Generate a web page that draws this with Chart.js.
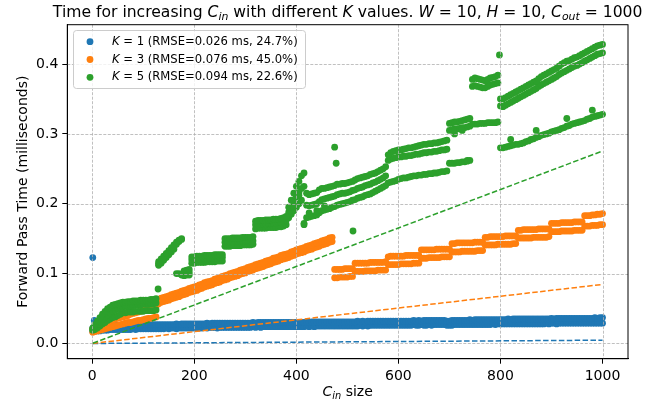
<!DOCTYPE html>
<html>
<head>
<meta charset="utf-8">
<script src="https://cdn.jsdelivr.net/npm/chart.js@4.4.1/dist/chart.umd.min.js"></script>
<style>
html, body { margin: 0; padding: 0; background: #fff; }
</style>
</head>
<body>
<canvas id="chart" width="670" height="404"></canvas>
<script>
// C_in values sampled along the x axis
var cinSizes = [1,
  5,10,15,20,25,30,35,40,45,50, 55,60,65,70,75,80,85,90,95,100,
  105,110,115,120,125,130,135,140,145,150, 155,160,165,170,175,180,185,190,195,200,
  205,210,215,220,225,230,235,240,245,250, 255,260,265,270,275,280,285,290,295,300,
  305,310,315,320,325,330,335,340,345,350, 355,360,365,370,375,380,385,390,395,400,
  405,410,415,420,425,430,435,440,445,450, 455,460,465,470,475,480,485,490,495,500,
  505,510,515,520,525,530,535,540,545,550, 555,560,565,570,575,580,585,590,595,600,
  605,610,615,620,625,630,635,640,645,650, 655,660,665,670,675,680,685,690,695,700,
  705,710,715,720,725,730,735,740,745,750, 755,760,765,770,775,780,785,790,795,800,
  805,810,815,820,825,830,835,840,845,850, 855,860,865,870,875,880,885,890,895,900,
  905,910,915,920,925,930,935,940,945,950, 955,960,965,970,975,980,985,990,995,1000];

var xTicks = [0, 200, 400, 600, 800, 1000];
var yTicks = [0.0, 0.1, 0.2, 0.3, 0.4];

// K=1 : lower / upper edge of the band (ms)
var k1Low = [.017,
  .018,.018,.018,.019,.019,.019,.020,.020,.020,.020, .020,.020,.020,.020,.020,.021,.020,.021,.021,.021,
  .021,.021,.021,.021,.021,.021,.021,.021,.022,.021, .022,.022,.021,.022,.022,.022,.022,.022,.022,.022,
  .022,.022,.022,.023,.022,.023,.023,.023,.022,.023, .023,.023,.023,.023,.023,.023,.023,.023,.023,.023,
  .023,.023,.024,.023,.024,.023,.024,.024,.024,.024, .024,.024,.024,.024,.024,.024,.024,.024,.024,.024,
  .024,.024,.024,.025,.024,.025,.024,.025,.025,.025, .025,.025,.025,.025,.025,.025,.025,.025,.025,.025,
  .025,.025,.025,.025,.026,.025,.026,.025,.026,.026, .026,.026,.026,.026,.026,.026,.026,.026,.026,.026,
  .026,.026,.026,.026,.026,.027,.026,.026,.027,.026, .026,.027,.026,.027,.027,.027,.027,.027,.026,.026,
  .026,.027,.027,.027,.027,.027,.027,.027,.027,.027, .027,.027,.027,.027,.027,.027,.028,.027,.028,.028,
  .028,.028,.028,.028,.028,.028,.028,.028,.028,.028, .028,.028,.028,.028,.028,.028,.028,.029,.028,.029,
  .029,.028,.029,.029,.029,.029,.029,.029,.029,.029, .029,.029,.029,.029,.029,.029,.029,.029,.029,.029];
var k1High = [.022,
  .023,.023,.024,.024,.025,.025,.025,.025,.026,.026, .026,.026,.026,.026,.026,.026,.026,.027,.026,.027,
  .027,.027,.027,.027,.027,.027,.027,.027,.027,.027, .027,.027,.028,.027,.028,.028,.028,.028,.028,.028,
  .028,.028,.028,.028,.029,.028,.029,.029,.029,.029, .029,.029,.029,.029,.029,.029,.029,.029,.029,.029,
  .029,.029,.030,.029,.030,.030,.030,.030,.030,.030, .030,.030,.030,.030,.030,.030,.030,.030,.030,.030,
  .030,.030,.030,.031,.030,.031,.031,.031,.031,.031, .031,.031,.031,.031,.031,.031,.031,.031,.031,.031,
  .031,.031,.031,.032,.031,.032,.031,.032,.032,.032, .032,.032,.032,.032,.032,.032,.032,.032,.032,.032,
  .032,.032,.032,.032,.032,.033,.032,.033,.032,.033, .033,.033,.033,.033,.033,.033,.033,.033,.032,.032,
  .033,.033,.033,.033,.033,.033,.033,.034,.033,.034, .034,.034,.034,.034,.034,.034,.034,.034,.034,.034,
  .034,.034,.035,.034,.035,.035,.035,.035,.035,.035, .035,.035,.035,.035,.035,.035,.035,.035,.035,.036,
  .035,.036,.036,.036,.036,.036,.036,.036,.036,.036, .036,.036,.036,.036,.036,.036,.037,.036,.037,.037];
var k1Extra = [[1, 0.123], [4, 0.033]];

// K=3 : two interleaved bands
var k3Low = [.016,
  .017,.018,.019,.020,.021,.022,.023,.024,.025,.026, .027,.028,.029,.030,.030,.031,.032,.033,.033,.034,
  .035,.036,.036,.037,.038,.057,.059,.060,.061,.062, .064,.065,.066,.067,.069,.070,.071,.073,.074,.075,
  .076,.078,.079,.081,.082,.083,.084,.086,.087,.088, .090,.091,.092,.094,.095,.096,.097,.099,.100,.101,
  .103,.104,.105,.107,.108,.109,.110,.112,.113,.114, .116,.117,.118,.120,.121,.122,.123,.125,.126,.128,
  .129,.130,.131,.133,.134,.135,.137,.138,.139,.141, .142,.143,.145,.146,.094,.094,.095,.095,.095,.095,
  .096,.096,.103,.103,.103,.103,.104,.104,.104,.104, .104,.105,.105,.105,.105,.113,.113,.113,.113,.113,
  .114,.114,.114,.114,.114,.115,.115,.115,.122,.122, .122,.123,.123,.123,.123,.123,.124,.124,.124,.124,
  .131,.131,.131,.131,.132,.132,.132,.132,.132,.132, .133,.133,.133,.141,.141,.141,.141,.141,.142,.142,
  .142,.142,.142,.142,.143,.143,.151,.151,.151,.151, .151,.151,.152,.152,.152,.152,.152,.152,.153,.160,
  .160,.160,.160,.161,.161,.161,.161,.161,.162,.162, .162,.162,.168,.168,.168,.169,.169,.169,.170,.170];
var k3High = [.021,
  .023,.024,.026,.027,.029,.030,.032,.033,.035,.036, .037,.038,.039,.040,.042,.043,.044,.045,.046,.047,
  .048,.050,.051,.052,.053,.063,.065,.066,.067,.068, .070,.071,.072,.073,.075,.076,.077,.079,.080,.081,
  .082,.084,.085,.087,.088,.089,.090,.092,.093,.094, .096,.097,.098,.100,.101,.102,.103,.105,.106,.107,
  .109,.110,.111,.113,.114,.115,.116,.118,.119,.120, .122,.123,.124,.126,.127,.128,.129,.131,.132,.134,
  .135,.136,.137,.139,.140,.141,.143,.144,.145,.147, .148,.149,.151,.152,.106,.106,.106,.106,.107,.107,
  .107,.107,.115,.115,.115,.115,.115,.115,.116,.116, .116,.116,.116,.116,.117,.124,.125,.125,.125,.125,
  .125,.125,.126,.126,.126,.126,.126,.126,.134,.134, .134,.134,.134,.134,.135,.135,.135,.135,.135,.135,
  .143,.143,.144,.144,.144,.144,.144,.144,.144,.145, .145,.145,.145,.152,.152,.153,.153,.153,.153,.153,
  .153,.154,.154,.154,.154,.154,.162,.162,.163,.163, .163,.163,.163,.163,.164,.164,.164,.164,.164,.172,
  .172,.172,.172,.173,.173,.173,.173,.173,.174,.174, .174,.174,.183,.183,.183,.184,.184,.185,.185,.186];
var k3Extra = [];

// K=5 : upper cluster, its lower edge / middle of the cloud, lower cluster
var k5High = [.022,
  .027,.032,.037,.042,.046,.050,.052,.055,.056,.057, .058,.059,.059,.060,.060,.061,.061,.061,.062,.062,
  .062,.062,.063,.063,.064,.117,.121,.125,.129,.133, .137,.141,.145,.148,.150,.104,.105,.106,.124,.124,
  .125,.125,.125,.126,.126,.126,.126,.127,.127,.127, .127,.150,.150,.150,.151,.151,.151,.151,.152,.152,
  .152,.152,.153,.175,.176,.176,.176,.177,.177,.177, .178,.178,.178,.179,.180,.182,.195,.205,.215,.225,
  .232,.240,.244,.215,.213,.214,.215,.216,.220,.222, .222,.223,.224,.225,.226,.228,.228,.229,.229,.230,
  .231,.232,.234,.236,.237,.238,.239,.240,.242,.243, .244,.246,.248,.250,.253,.270,.273,.275,.276,.277,
  .277,.278,.279,.280,.280,.281,.282,.283,.284,.285, .285,.286,.286,.287,.287,.288,.289,.290,.291,.315,
  .316,.317,.317,.318,.319,.320,.321,.322,.378,.380, .379,.378,.377,.376,.378,.380,.381,.382,.384,.350,
  .350,.352,.354,.356,.358,.360,.362,.364,.366,.368, .370,.372,.374,.376,.379,.382,.384,.386,.388,.390,
  .392,.394,.397,.400,.402,.404,.405,.407,.409,.410, .412,.414,.416,.418,.420,.422,.424,.426,.427,.428];
var k5Mid = [.020,
  .024,.027,.031,.035,.038,.041,.044,.046,.048,.050, .051,.052,.053,.053,.054,.054,.055,.055,.055,.056,
  .056,.056,.057,.057,.058,.114,.118,.122,.126,.130, .134,.138,.142,.146,.149,.101,.101,.102,.120,.120,
  .120,.121,.121,.121,.121,.122,.122,.122,.122,.123, .123,.145,.145,.145,.145,.146,.146,.146,.146,.147,
  .147,.147,.147,.170,.170,.171,.171,.171,.172,.172, .172,.172,.173,.173,.174,.176,.188,.195,.203,.210,
  .216,.222,.225,.198,.197,.198,.199,.200,.203,.206, .207,.208,.209,.210,.211,.213,.214,.215,.215,.216,
  .217,.219,.220,.222,.223,.224,.226,.227,.228,.230, .231,.233,.235,.237,.240,.262,.264,.265,.266,.267,
  .267,.268,.268,.269,.269,.270,.271,.271,.272,.273, .273,.274,.274,.275,.275,.276,.277,.277,.278,.305,
  .306,.307,.307,.308,.309,.309,.310,.311,.368,.369, .368,.367,.366,.366,.368,.370,.371,.372,.373,.340,
  .339,.341,.343,.345,.347,.349,.351,.353,.355,.357, .359,.361,.363,.365,.368,.370,.372,.374,.376,.378,
  .380,.382,.385,.387,.389,.391,.393,.395,.397,.398, .400,.402,.404,.406,.408,.410,.412,.414,.415,.416];
var k5Low = [.019,
  .020,.022,.025,.028,.030,.033,.035,.037,.038,.040, .042,.044,.044,.045,.045,.045,.046,.046,.046,.046,
  .047,.047,.047,.047,.048,.112,.115,.119,.123,.127, .131,.135,.100,.100,.098,.097,.098,.098,.115,.115,
  .116,.116,.116,.116,.117,.117,.117,.117,.118,.118, .118,.139,.139,.139,.140,.140,.140,.140,.141,.141,
  .141,.141,.142,.164,.165,.165,.165,.165,.166,.166, .166,.166,.167,.167,.168,.170,.180,.185,.190,.195,
  .200,.205,.172,.180,.181,.182,.183,.184,.187,.190, .191,.192,.193,.195,.196,.198,.199,.200,.201,.202,
  .203,.205,.206,.208,.209,.210,.212,.213,.214,.216, .218,.220,.222,.224,.226,.230,.231,.232,.233,.235,
  .236,.237,.237,.238,.239,.240,.240,.241,.241,.242, .242,.243,.243,.244,.244,.245,.246,.246,.247,.258,
  .258,.258,.259,.259,.260,.260,.261,.262,.314,.314, .314,.315,.315,.315,.316,.316,.316,.316,.317,.280,
  .280,.281,.282,.283,.284,.285,.285,.286,.287,.289, .290,.292,.293,.295,.296,.298,.299,.300,.301,.303,
  .304,.305,.306,.308,.309,.311,.312,.314,.315,.316, .317,.318,.319,.321,.322,.324,.325,.326,.327,.328];
var k5Extra = [[129, 0.078], [475, 0.281], [478, 0.258], [511, 0.161], [798, 0.413],
  [395, 0.195], [405, 0.212], [415, 0.170], [425, 0.187], [440, 0.190], [455, 0.197],
  [710, 0.300], [725, 0.305], [735, 0.262], [820, 0.292], [870, 0.305], [930, 0.322], [980, 0.334]];

// dashed fitted lines
var fitX = [1, 1000];
var fitK1 = [0.0, 0.0047];
var fitK3 = [0.0001, 0.0845];
var fitK5 = [0.0003, 0.2755];

var kValues = ['1', '3', '5'];
var rmseMs = ['0.026', '0.076', '0.094'];
var rmsePct = ['24.7', '45.0', '22.6'];
var colors = ['#1f77b4', '#ff7f0e', '#2ca02c'];

function scatterPoints(rows, extra) {
  var pts = [];
  rows.forEach(function (ys) {
    cinSizes.forEach(function (c, i) { pts.push({ x: c, y: ys[i] }); });
  });
  extra.forEach(function (p) { pts.push({ x: p[0], y: p[1] }); });
  return pts;
}
function linePoints(ys) {
  return fitX.map(function (x, i) { return { x: x, y: ys[i] }; });
}

var FONT = '"DejaVu Sans", sans-serif';

function drawRich(ctx, parts, x, y, size, align) {
  function f(p) { return (p.i ? 'italic ' : '') + (p.sub ? size * 0.7 : size) + 'px ' + FONT; }
  var w = 0;
  parts.forEach(function (p) { ctx.font = f(p); w += ctx.measureText(p.t).width; });
  var cx = align === 'center' ? x - w / 2 : x;
  ctx.textAlign = 'left';
  parts.forEach(function (p) {
    ctx.font = f(p);
    ctx.fillText(p.t, cx, y + (p.sub ? size * 0.22 : 0));
    cx += ctx.measureText(p.t).width;
  });
}

var decor = {
  id: 'decor',
  afterDatasetDraw: function (chart, args) {
    // matplotlib grid sits above the scatter, below the lines
    if (args.index !== 2) return;
    var ctx = chart.ctx, a = chart.chartArea;
    var xs = chart.scales.x, ys = chart.scales.y;
    ctx.save();
    ctx.strokeStyle = '#b0b0b0';
    ctx.lineWidth = 0.8;
    ctx.setLineDash([3, 1.5]);
    xTicks.forEach(function (v) {
      var px = Math.round(xs.getPixelForValue(v)) + 0.5;
      ctx.beginPath(); ctx.moveTo(px, a.top); ctx.lineTo(px, a.bottom); ctx.stroke();
    });
    yTicks.forEach(function (v) {
      var py = Math.round(ys.getPixelForValue(v)) + 0.5;
      ctx.beginPath(); ctx.moveTo(a.left, py); ctx.lineTo(a.right, py); ctx.stroke();
    });
    ctx.restore();
  },
  afterDraw: function (chart) {
    var ctx = chart.ctx, a = chart.chartArea;
    ctx.save();
    // frame
    ctx.strokeStyle = '#000';
    ctx.lineWidth = 1;
    ctx.strokeRect(a.left, a.top, a.right - a.left, a.bottom - a.top);

    ctx.fillStyle = '#000';
    ctx.textBaseline = 'alphabetic';
    // title
    drawRich(ctx, [
      { t: 'Time for increasing ' }, { t: 'C', i: 1 }, { t: 'in', i: 1, sub: 1 },
      { t: ' with different ' }, { t: 'K', i: 1 }, { t: ' values. ' },
      { t: 'W', i: 1 }, { t: ' = 10, ' }, { t: 'H', i: 1 }, { t: ' = 10, ' },
      { t: 'C', i: 1 }, { t: 'out', i: 1, sub: 1 }, { t: ' = 1000' }
    ], (a.left + a.right) / 2, 17, 15.6, 'center');
    // x label
    drawRich(ctx, [{ t: 'C', i: 1 }, { t: 'in', i: 1, sub: 1 }, { t: ' size' }],
      (a.left + a.right) / 2, 396, 14, 'center');
    // y label
    ctx.save();
    ctx.translate(27, (a.top + a.bottom) / 2);
    ctx.rotate(-Math.PI / 2);
    ctx.font = '14px ' + FONT;
    ctx.textAlign = 'center';
    ctx.fillText('Forward Pass Time (milliseconds)', 0, 0);
    ctx.restore();

    // legend
    var lx = 73, ly = 30, lw = 232, lh = 58;
    ctx.beginPath();
    ctx.roundRect(lx + 0.5, ly + 0.5, lw, lh, 3);
    ctx.fillStyle = 'rgba(255,255,255,0.8)';
    ctx.fill();
    ctx.strokeStyle = '#cccccc';
    ctx.lineWidth = 1;
    ctx.stroke();
    var rows = [41.7, 59.5, 77.3];
    for (var i = 0; i < 3; i++) {
      ctx.beginPath();
      ctx.arc(90, rows[i], 3.4, 0, Math.PI * 2);
      ctx.fillStyle = colors[i];
      ctx.fill();
      ctx.fillStyle = '#000';
      ctx.textBaseline = 'middle';
      drawRich(ctx, [{ t: 'K', i: 1 }, { t: ' = ' + kValues[i] + ' (RMSE=' + rmseMs[i] + ' ms, ' + rmsePct[i] + '%)' }],
        112, rows[i], 11.6, 'left');
    }
    ctx.restore();
  }
};

var scatterBase = { type: 'scatter', pointRadius: 3.4, pointBorderWidth: 0, pointHoverRadius: 3.4 };
var lineBase = { type: 'line', showLine: true, borderWidth: 1.5, borderDash: [5.5, 2.4], pointRadius: 0, fill: false, tension: 0 };

new Chart(document.getElementById('chart'), {
  type: 'scatter',
  data: {
    datasets: [
      Object.assign({}, scatterBase, { label: 'K=1', data: scatterPoints([k1Low, k1High], k1Extra), backgroundColor: colors[0], pointBackgroundColor: colors[0], order: 12 }),
      Object.assign({}, scatterBase, { label: 'K=3', data: scatterPoints([k3Low, k3High], k3Extra), backgroundColor: colors[1], pointBackgroundColor: colors[1], order: 11 }),
      Object.assign({}, scatterBase, { label: 'K=5', data: scatterPoints([k5Low, k5Mid, k5High], k5Extra), backgroundColor: colors[2], pointBackgroundColor: colors[2], order: 10 }),
      Object.assign({}, lineBase, { label: 'fit K=1', data: linePoints(fitK1), borderColor: colors[0], order: 3 }),
      Object.assign({}, lineBase, { label: 'fit K=3', data: linePoints(fitK3), borderColor: colors[1], order: 2 }),
      Object.assign({}, lineBase, { label: 'fit K=5', data: linePoints(fitK5), borderColor: colors[2], order: 1 })
    ]
  },
  options: {
    responsive: false,
    animation: false,
    layout: { padding: { left: 0, top: 24.7, right: 42, bottom: 0 } },
    plugins: { legend: { display: false }, title: { display: false }, tooltip: { enabled: false } },
    scales: {
      x: {
        type: 'linear', min: -48.95, max: 1049.95,
        afterBuildTicks: function (s) { s.ticks = xTicks.map(function (v) { return { value: v }; }); },
        afterFit: function (s) { s.height = 45.3; },
        ticks: { color: '#000', font: { family: FONT, size: 14 }, padding: 4, maxRotation: 0,
          callback: function (v) { return String(v); } },
        grid: { drawOnChartArea: false, drawTicks: true, tickLength: 5, tickColor: '#000', tickWidth: 1 },
        border: { display: true, color: '#000', width: 1 }
      },
      y: {
        type: 'linear', min: -0.0218, max: 0.4563,
        afterBuildTicks: function (s) { s.ticks = yTicks.map(function (v) { return { value: v }; }); },
        afterFit: function (s) { s.width = 67.3; },
        ticks: { color: '#000', font: { family: FONT, size: 14 }, padding: 4,
          callback: function (v) { return v.toFixed(1); } },
        grid: { drawOnChartArea: false, drawTicks: true, tickLength: 5, tickColor: '#000', tickWidth: 1 },
        border: { display: true, color: '#000', width: 1 }
      }
    }
  },
  plugins: [decor]
});
</script>
</body>
</html>
